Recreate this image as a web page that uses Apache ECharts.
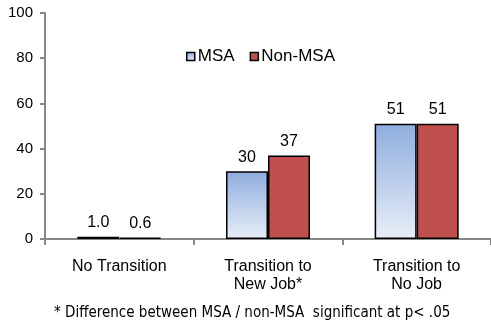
<!DOCTYPE html>
<html>
<head>
<meta charset="utf-8">
<script src="https://cdn.jsdelivr.net/npm/echarts@6/dist/echarts.min.js"></script>
<style>
  html, body { margin: 0; padding: 0; background: #fff; }
  #chart { width: 491px; height: 324px; }
</style>
</head>
<body>
<div id="chart"></div>
<script>
// Job transition outcomes by area type (percent)
const categories = ['No Transition', 'Transition to\nNew Job*', 'Transition to\nNo Job'];
const msaValues = [1.0, 30, 51];
const nonMsaValues = [0.6, 37, 51];
const yTicks = [0, 20, 40, 60, 80, 100];
const footnote = '* Difference between MSA / non-MSA  significant at p< .05';

const fontMain = '"Liberation Sans", Arial, sans-serif';
const axisGrey = '#888888';

function fmt(v) {
  return v < 10 ? v.toFixed(1) : v.toFixed(0);
}

const chart = echarts.init(document.getElementById('chart'), null, { renderer: 'canvas' });

chart.setOption({
  animation: false,
  backgroundColor: '#ffffff',
  textStyle: { fontFamily: fontMain },
  grid: { left: 45, top: 13, width: 450, bottom: 85, containLabel: false },
  legend: {
    left: 181, top: 43,
    itemWidth: 8, itemHeight: 8, itemGap: 15,
    icon: 'rect',
    itemStyle: { borderColor: '#000', borderWidth: 1.5 },
    textStyle: { fontSize: 17, color: '#000', fontFamily: fontMain, padding: [0, 0, 0, -2] },
    data: ['MSA', 'Non-MSA']
  },
  xAxis: {
    type: 'category',
    data: categories,
    axisLine: { lineStyle: { color: axisGrey, width: 2 } },
    axisTick: { show: true, alignWithLabel: false, length: 6, lineStyle: { color: axisGrey, width: 2 } },
    axisLabel: { interval: 0, fontSize: 16, lineHeight: 18, color: '#000', margin: 19, fontFamily: fontMain }
  },
  yAxis: {
    type: 'value',
    min: yTicks[0], max: yTicks[yTicks.length - 1], interval: yTicks[1] - yTicks[0],
    splitLine: { show: false },
    axisLine: { show: true, lineStyle: { color: axisGrey, width: 2 } },
    axisTick: { show: true, length: 5, lineStyle: { color: axisGrey, width: 2 } },
    axisLabel: { fontSize: 15, color: '#000', margin: 12, fontFamily: fontMain }
  },
  series: [
    {
      name: 'MSA',
      type: 'bar',
      data: msaValues,
      barWidth: 42,
      barGap: '0%',
      itemStyle: {
        color: new echarts.graphic.LinearGradient(0, 0, 0, 1, [
          { offset: 0, color: '#8fadde' },
          { offset: 1, color: '#e8eef8' }
        ]),
        borderColor: '#000',
        borderWidth: 1.5
      },
      label: {
        show: true, position: 'top', distance: 6,
        fontSize: 16, color: '#000', fontFamily: fontMain,
        formatter: p => fmt(p.value)
      }
    },
    {
      name: 'Non-MSA',
      type: 'bar',
      data: nonMsaValues,
      barWidth: 42,
      barGap: '0%',
      itemStyle: {
        color: '#c0504d',
        borderColor: '#000',
        borderWidth: 1.5
      },
      label: {
        show: true, position: 'top', distance: 6,
        fontSize: 16, color: '#000', fontFamily: fontMain,
        formatter: p => fmt(p.value)
      }
    }
  ],
  graphic: [
    {
      type: 'text',
      left: 54,
      top: 306,
      style: {
        text: footnote,
        font: '15px "Liberation Sans Narrow", "DejaVu Sans Condensed", sans-serif',
        fill: '#000'
      }
    }
  ]
});
</script>
</body>
</html>
